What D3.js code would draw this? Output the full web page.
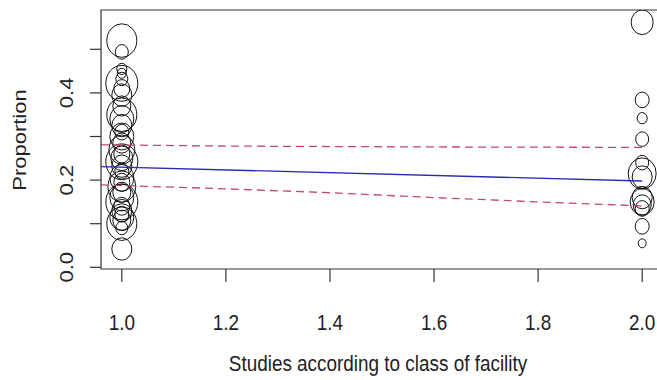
<!DOCTYPE html>
<html>
<head>
<meta charset="utf-8">
<script src="https://cdn.jsdelivr.net/npm/d3@7"></script>
<style>
  html, body { margin: 0; padding: 0; background: #fff; }
  svg { display: block; }
  text { font-family: "Liberation Sans", Arial, sans-serif; fill: #222; }
</style>
</head>
<body>
<svg id="chart" width="657" height="380"></svg>
<script>
// Study proportions by class of facility (x = 1 or 2), bubble size = study weight
const studyClass1 = [0.520, 0.494, 0.455, 0.445, 0.432, 0.422, 0.410, 0.395, 0.370, 0.350,
                     0.340, 0.325, 0.310, 0.300, 0.285, 0.270, 0.260, 0.250, 0.242, 0.232,
                     0.220, 0.205, 0.195, 0.185, 0.172, 0.160, 0.150, 0.140, 0.130, 0.122,
                     0.115, 0.108, 0.100, 0.090, 0.042];
const weightClass1 = [15, 6.5, 5, 4.5, 6, 16, 8, 10, 9, 15,
                      12, 10, 7, 12, 9, 13, 8, 11, 16, 10,
                      7, 12, 8, 14, 9, 12, 16, 8, 10, 7,
                      12, 9, 15, 6, 10];
const studyClass2 = [0.562, 0.384, 0.342, 0.294, 0.240, 0.215, 0.207, 0.160, 0.150, 0.143,
                     0.135, 0.094, 0.055];
const weightClass2 = [11, 7, 5, 6.5, 6.5, 14, 10, 10, 12, 9, 7, 7, 4];

// Fitted meta-regression line and 95% confidence band
const fitX = [0.96, 2.0];
const fitY = [0.231, 0.198];
const bandX = [0.96, 1.2, 1.4, 1.6, 1.8, 2.0];
const bandUpper = [0.281, 0.278, 0.277, 0.276, 0.2755, 0.275];
const bandLower = [0.189, 0.180, 0.171, 0.160, 0.150, 0.141];

const xTicks = [1.0, 1.2, 1.4, 1.6, 1.8, 2.0];
const xTickLabels = ["1.0", "1.2", "1.4", "1.6", "1.8", "2.0"];
const yTicks = [0.0, 0.1, 0.2, 0.3, 0.4, 0.5];
const yTickLabels = ["0.0", "", "0.2", "", "0.4", ""];

const xTitle = "Studies according to class of facility";
const yTitle = "Proportion";

const svg = d3.select("#chart");
const plot = { left: 101, right: 663, top: 10, bottom: 269 };
const textSquash = 0.86;   // glyphs are drawn slightly narrow
const circleAspect = 1.12; // bubbles are slightly taller than wide

const x = d3.scaleLinear().domain([0.96, 2.04]).range([plot.left, plot.right]);
const y = d3.scaleLinear().domain([0, 0.5]).range([267.3, 49.3]);
const r = d3.scaleLinear().domain([0, 1]).range([0, 1]);

svg.append("clipPath").attr("id", "plotclip")
  .append("rect")
  .attr("x", plot.left).attr("y", plot.top)
  .attr("width", plot.right - plot.left).attr("height", plot.bottom - plot.top);

const g = svg.append("g").attr("clip-path", "url(#plotclip)");

const points = studyClass1.map((v, i) => ({ cls: 1, v, w: weightClass1[i] }))
  .concat(studyClass2.map((v, i) => ({ cls: 2, v, w: weightClass2[i] })));

g.selectAll("ellipse.study").data(points).enter().append("ellipse")
  .attr("class", "study")
  .attr("cx", d => x(d.cls))
  .attr("cy", d => y(d.v))
  .attr("rx", d => r(d.w))
  .attr("ry", d => r(d.w) * circleAspect)
  .attr("fill", "none")
  .attr("stroke", "#111")
  .attr("stroke-width", 1);

// confidence band (dashed) and fitted line
const line = d3.line().x(d => x(d[0])).y(d => y(d[1]));
[bandUpper, bandLower].forEach(band => {
  g.append("path")
    .attr("d", line(bandX.map((xv, i) => [xv, band[i]])))
    .attr("fill", "none")
    .attr("stroke", "#c4486f")
    .attr("stroke-width", 1.3)
    .attr("stroke-dasharray", "8,5");
});
g.append("path")
  .attr("d", line(fitX.map((xv, i) => [xv, fitY[i]])))
  .attr("fill", "none")
  .attr("stroke", "#2a2ab4")
  .attr("stroke-width", 1.4);

// plot frame
svg.append("path")
  .attr("d", `M${plot.right},${plot.top}H${plot.left}V${plot.bottom}H${plot.right}`)
  .attr("fill", "none").attr("stroke", "#333").attr("stroke-width", 1.2);

// x axis
const xAxis = svg.append("g").attr("transform", `translate(0,${plot.bottom})`);
xAxis.selectAll("line").data(xTicks).enter().append("line")
  .attr("x1", d => x(d)).attr("x2", d => x(d))
  .attr("y1", 0).attr("y2", 13)
  .attr("stroke", "#333").attr("stroke-width", 1.2);
xAxis.selectAll("text").data(xTicks).enter().append("text")
  .attr("transform", d => `translate(${x(d)},61) scale(${textSquash},1)`)
  .attr("text-anchor", "middle")
  .attr("font-size", 22)
  .text((d, i) => xTickLabels[i]);

// y axis
const yAxis = svg.append("g").attr("transform", `translate(${plot.left},0)`);
yAxis.selectAll("line").data(yTicks).enter().append("line")
  .attr("x1", -11).attr("x2", 0)
  .attr("y1", d => y(d)).attr("y2", d => y(d))
  .attr("stroke", "#333").attr("stroke-width", 1.2);
yAxis.selectAll("text").data(yTicks).enter().append("text")
  .attr("transform", d => `translate(-28,${y(d)}) scale(${textSquash},1) rotate(-90)`)
  .attr("text-anchor", "middle")
  .attr("font-size", 22)
  .text((d, i) => yTickLabels[i]);

// axis titles
svg.append("text")
  .attr("transform", `translate(378,371) scale(${textSquash},1)`)
  .attr("text-anchor", "middle")
  .attr("font-size", 22)
  .text(xTitle);
svg.append("text")
  .attr("transform", `translate(26,140) scale(${textSquash},1) rotate(-90)`)
  .attr("text-anchor", "middle")
  .attr("font-size", 22)
  .text(yTitle);
</script>
</body>
</html>
